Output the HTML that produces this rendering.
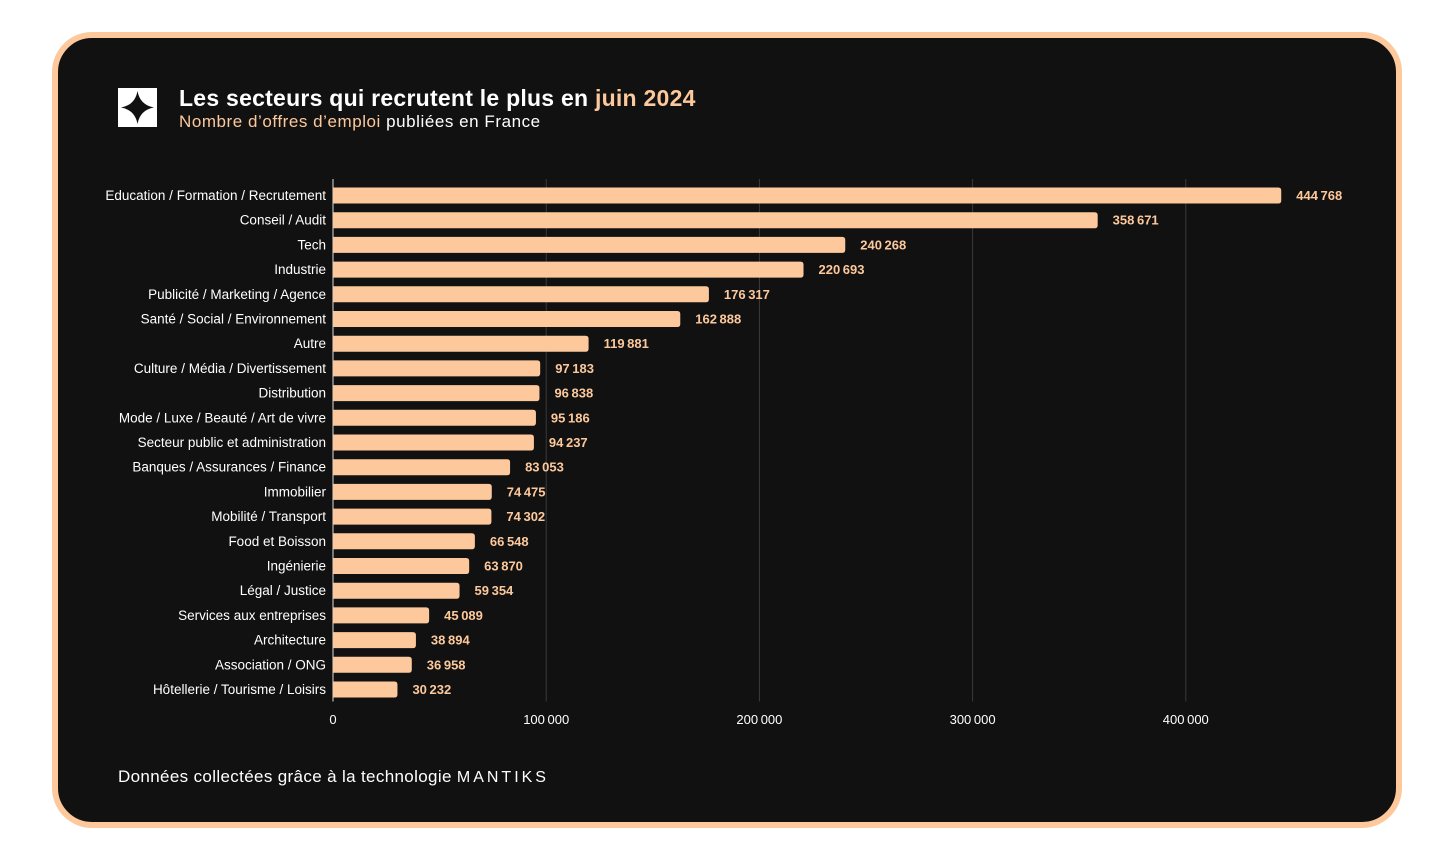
<!DOCTYPE html>
<html><head><meta charset="utf-8">
<style>
html,body{margin:0;padding:0;background:#fff;width:1456px;height:861px;overflow:hidden;font-family:"Liberation Sans",sans-serif}
#card{position:absolute;left:52px;top:32px;width:1338px;height:784px;border:6px solid #fdc99c;border-radius:40px;background:#111}
#logo{position:absolute;left:118px;top:88px;width:39px;height:39px;background:#fff}
#title{position:absolute;left:179px;top:85px;color:#fff;font-size:23px;font-weight:bold;letter-spacing:0.25px}
#sub{position:absolute;left:179px;top:112px;color:#fff;font-size:17px;letter-spacing:0.55px}
.pe{color:#fdc99c}
#foot{position:absolute;left:118px;top:767px;color:#fff;font-size:17px;letter-spacing:0.35px}
svg{position:absolute;left:0;top:0}
</style></head><body>
<div id="card"></div>
<div id="logo"><svg width="39" height="39" viewBox="0 0 39 39"><path d="M19.5 3 Q22 17 36 19.5 Q22 22 19.5 36 Q17 22 3 19.5 Q17 17 19.5 3Z" fill="#111"/></svg></div>
<div id="title">Les secteurs qui recrutent le plus en <span class="pe">juin 2024</span></div>
<div id="sub"><span class="pe">Nombre d’offres d’emploi</span> publiées en France</div>
<div id="foot">Données collectées grâce à la technologie <span style="letter-spacing:3px;font-size:16px">MANTIKS</span></div>
<svg id="chart" width="1456" height="861"></svg>
<script>
const categories=["Education / Formation / Recrutement","Conseil / Audit","Tech","Industrie","Publicité / Marketing / Agence","Santé / Social / Environnement","Autre","Culture / Média / Divertissement","Distribution","Mode / Luxe / Beauté / Art de vivre","Secteur public et administration","Banques / Assurances / Finance","Immobilier","Mobilité / Transport","Food et Boisson","Ingénierie","Légal / Justice","Services aux entreprises","Architecture","Association / ONG","Hôtellerie / Tourisme / Loisirs"];
const values=[444768,358671,240268,220693,176317,162888,119881,97183,96838,95186,94237,83053,74475,74302,66548,63870,59354,45089,38894,36958,30232];
const ticks=[0,100000,200000,300000,400000];
const NS="http://www.w3.org/2000/svg";
const svg=document.getElementById('chart');
const x0=333,pxPer=213.2/100000,yTop=187.5,step=24.7,bh=16;
const X=v=>x0+v*pxPer;
const Y=i=>yTop+i*step;
const fmt=v=>String(v).replace(/\B(?=(\d{3})+(?!\d))/g,"\u2009");
function mk(t,a){const e=document.createElementNS(NS,t);for(const k in a)e.setAttribute(k,a[k]);svg.appendChild(e);return e;}
const yEnd=Y(categories.length-1)+bh+4;
ticks.forEach(t=>{
 if(t>0){const g=mk('line',{x1:X(t),x2:X(t),y1:179,y2:yEnd,stroke:'#3a3a3a','stroke-width':1});
 
 }
 const l=mk('text',{x:X(t),y:724,fill:'#fff','font-size':13,'text-anchor':'middle','font-family':'Liberation Sans, sans-serif'});
 l.textContent=fmt(t);
 
 
});
const ax=mk('line',{x1:x0,x2:x0,y1:179,y2:yEnd,stroke:'#ddd','stroke-width':1});


categories.forEach((c,i)=>{
 const v=values[i],y=Y(i),w=X(v)-x0;
 const b=mk('path',{d:`M${x0} ${y}H${x0+w-3}Q${x0+w} ${y} ${x0+w} ${y+3}V${y+bh-3}Q${x0+w} ${y+bh} ${x0+w-3} ${y+bh}H${x0}Z`,fill:'#fdc99c'});
 
 
 const t=mk('text',{x:326,y:y+bh/2+4.5,fill:'#fff','font-size':13.5,'text-anchor':'end','font-family':'Liberation Sans, sans-serif'});
 t.textContent=c;
 
 
 const vl=mk('text',{x:X(v)+15,y:y+bh/2+4.5,fill:'#fdc99c','font-size':13,'font-weight':'bold','font-family':'Liberation Sans, sans-serif'});
 vl.textContent=fmt(v);
 
 
});
</script>
</body></html>
